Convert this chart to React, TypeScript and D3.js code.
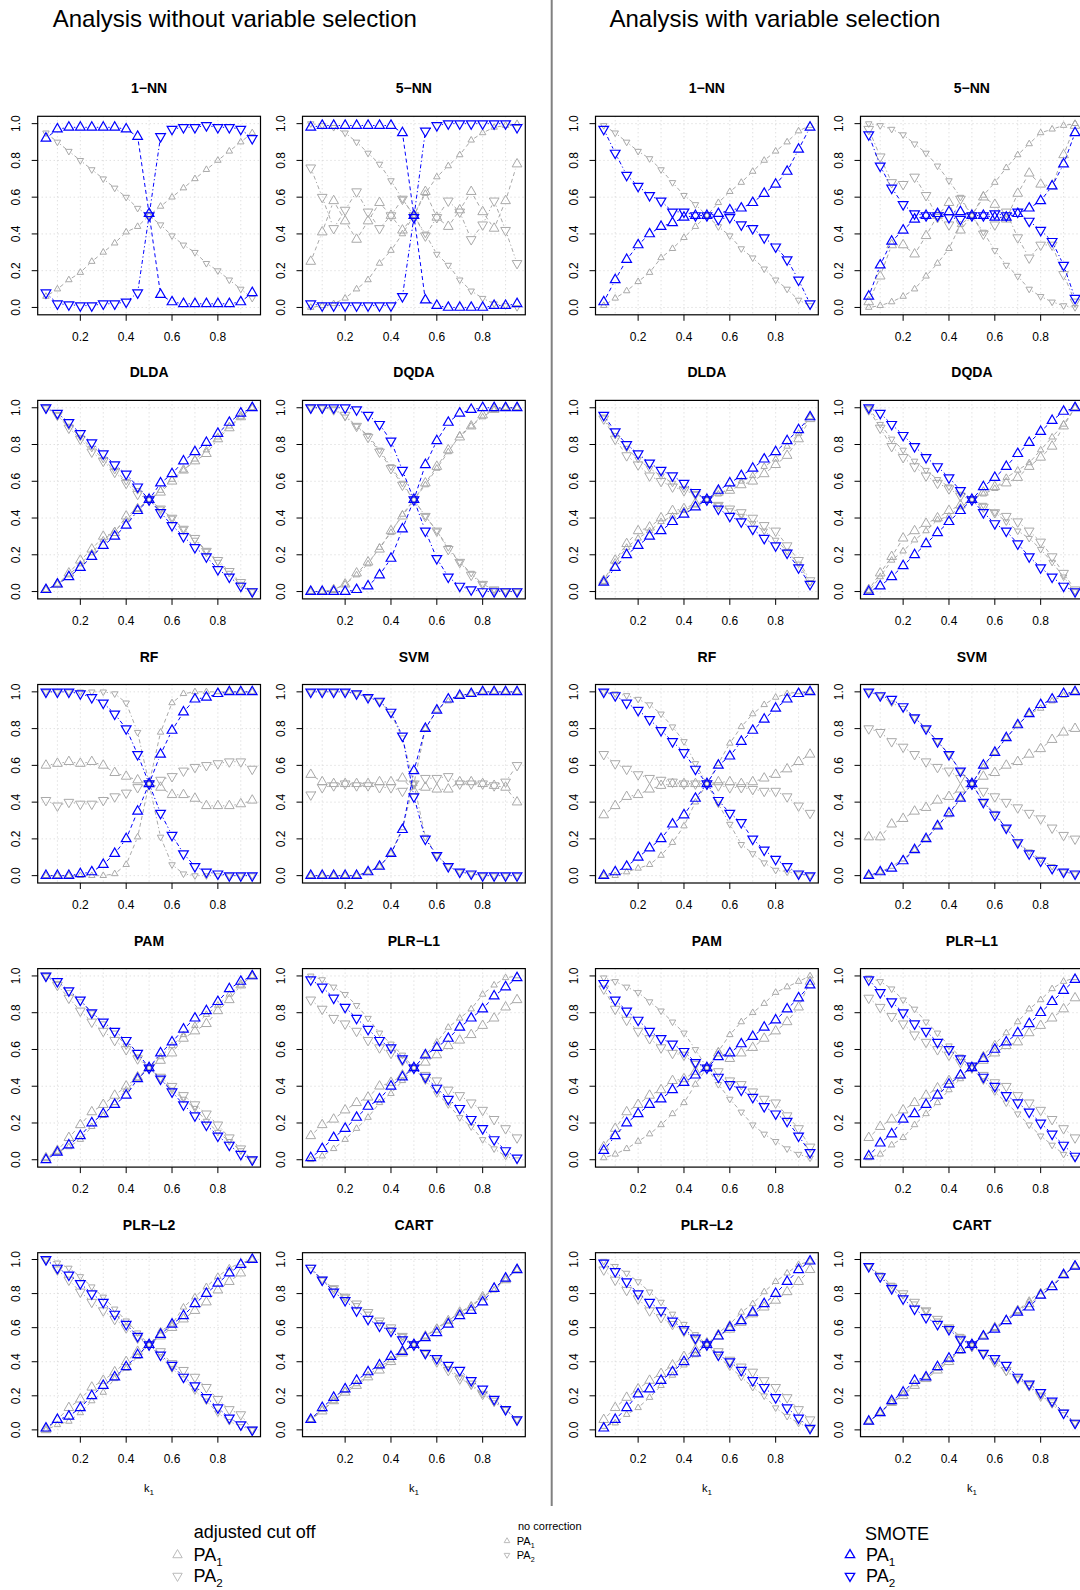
import React from "react";
import * as d3 from "d3";

// ---------- data ----------
const K1 = [0.05, 0.1, 0.15, 0.2, 0.25, 0.3, 0.35, 0.4, 0.45, 0.5, 0.55, 0.6, 0.65, 0.7, 0.75, 0.8, 0.85, 0.9, 0.95];
const X_TICKS = [0.2, 0.4, 0.6, 0.8];
const Y_TICKS = [0, 0.2, 0.4, 0.6, 0.8, 1.0];
const X_GRID = [0.1, 0.2, 0.3, 0.4, 0.5, 0.6, 0.7, 0.8, 0.9];
const METHODS = ["1\u2212NN", "5\u2212NN", "DLDA", "DQDA", "RF", "SVM", "PAM", "PLR\u2212L1", "PLR\u2212L2", "CART"];
const HALF_TITLES = ["Analysis without variable selection", "Analysis with variable selection"];

// ---- without variable selection ----
const L_1NN_adj1: number[] = [];
const L_1NN_adj2: number[] = [];
const L_1NN_no1 = [0.06, 0.10, 0.15, 0.19, 0.25, 0.30, 0.35, 0.41, 0.44, 0.50, 0.55, 0.60, 0.65, 0.70, 0.75, 0.80, 0.85, 0.90, 0.95];
const L_1NN_no2 = [0.95, 0.90, 0.85, 0.80, 0.75, 0.70, 0.65, 0.60, 0.54, 0.50, 0.45, 0.39, 0.34, 0.30, 0.24, 0.20, 0.15, 0.10, 0.05];
const L_1NN_sm1 = [0.92, 0.97, 0.98, 0.98, 0.98, 0.98, 0.98, 0.97, 0.93, 0.51, 0.07, 0.03, 0.02, 0.02, 0.02, 0.02, 0.02, 0.03, 0.08];
const L_1NN_sm2 = [0.08, 0.02, 0.015, 0.01, 0.01, 0.02, 0.02, 0.03, 0.08, 0.50, 0.93, 0.97, 0.98, 0.98, 0.99, 0.98, 0.98, 0.97, 0.92];

const L_5NN_adj1 = [0.25, 0.41, 0.58, 0.47, 0.37, 0.47, 0.57, 0.50, 0.42, 0.50, 0.63, 0.49, 0.44, 0.53, 0.63, 0.52, 0.43, 0.58, 0.78];
const L_5NN_adj2 = [0.76, 0.60, 0.43, 0.53, 0.63, 0.52, 0.43, 0.50, 0.59, 0.50, 0.39, 0.49, 0.58, 0.52, 0.37, 0.45, 0.58, 0.42, 0.24];
const L_5NN_no1 = [0.00, 0.01, 0.02, 0.05, 0.10, 0.15, 0.24, 0.31, 0.40, 0.50, 0.62, 0.71, 0.77, 0.83, 0.91, 0.95, 0.98, 0.99, 1.00];
const L_5NN_no2 = [1.00, 0.99, 0.98, 0.95, 0.90, 0.84, 0.78, 0.69, 0.59, 0.50, 0.40, 0.29, 0.23, 0.15, 0.09, 0.05, 0.02, 0.01, 0.00];
const L_5NN_sm1 = [0.98, 0.99, 0.99, 0.99, 0.99, 0.99, 0.99, 0.99, 0.95, 0.50, 0.04, 0.01, 0.00, 0.00, 0.00, 0.00, 0.01, 0.01, 0.02];
const L_5NN_sm2 = [0.02, 0.01, 0.01, 0.01, 0.01, 0.01, 0.01, 0.01, 0.06, 0.49, 0.96, 0.99, 1.00, 1.00, 1.00, 1.00, 1.00, 1.00, 0.98];

const L_DLDA_adj1 = [0.01, 0.04, 0.10, 0.17, 0.23, 0.30, 0.32, 0.41, 0.45, 0.50, 0.54, 0.60, 0.66, 0.71, 0.75, 0.83, 0.89, 0.95, 1.00];
const L_DLDA_adj2 = [1.00, 0.96, 0.89, 0.83, 0.76, 0.71, 0.65, 0.59, 0.53, 0.50, 0.45, 0.40, 0.34, 0.29, 0.22, 0.17, 0.11, 0.05, 0.00];
const L_DLDA_no1 = [0.01, 0.04, 0.09, 0.15, 0.21, 0.28, 0.33, 0.39, 0.45, 0.50, 0.55, 0.61, 0.66, 0.72, 0.77, 0.84, 0.90, 0.95, 1.00];
const L_DLDA_no2 = [1.00, 0.96, 0.90, 0.84, 0.78, 0.72, 0.66, 0.60, 0.55, 0.50, 0.45, 0.40, 0.34, 0.28, 0.22, 0.16, 0.10, 0.04, 0.00];
const L_DLDA_sm1 = [0.01, 0.04, 0.08, 0.13, 0.19, 0.25, 0.30, 0.36, 0.44, 0.50, 0.59, 0.64, 0.71, 0.76, 0.81, 0.86, 0.92, 0.97, 1.00];
const L_DLDA_sm2 = [1.00, 0.97, 0.92, 0.86, 0.81, 0.75, 0.69, 0.64, 0.57, 0.50, 0.43, 0.36, 0.30, 0.24, 0.19, 0.12, 0.08, 0.03, 0.00];

const L_DQDA_adj1 = [0.00, 0.00, 0.01, 0.04, 0.10, 0.16, 0.23, 0.33, 0.41, 0.50, 0.59, 0.68, 0.77, 0.84, 0.90, 0.96, 0.99, 1.00, 1.00];
const L_DQDA_adj2 = [1.00, 1.00, 0.99, 0.96, 0.90, 0.84, 0.76, 0.67, 0.58, 0.50, 0.41, 0.33, 0.23, 0.16, 0.09, 0.04, 0.01, 0.00, 0.00];
const L_DQDA_no1 = [0.00, 0.00, 0.01, 0.04, 0.09, 0.15, 0.24, 0.32, 0.42, 0.50, 0.58, 0.67, 0.76, 0.85, 0.90, 0.95, 0.99, 1.00, 1.00];
const L_DQDA_no2 = [1.00, 1.00, 0.99, 0.95, 0.90, 0.85, 0.77, 0.68, 0.59, 0.50, 0.41, 0.33, 0.24, 0.16, 0.10, 0.04, 0.01, 0.00, 0.00];
const L_DQDA_sm1 = [0.00, 0.00, 0.00, 0.00, 0.01, 0.03, 0.09, 0.18, 0.34, 0.50, 0.69, 0.82, 0.92, 0.97, 0.99, 1.00, 1.00, 1.00, 1.00];
const L_DQDA_sm2 = [1.00, 1.00, 1.00, 1.00, 0.99, 0.96, 0.91, 0.82, 0.66, 0.50, 0.33, 0.18, 0.08, 0.03, 0.01, 0.00, 0.00, 0.00, 0.00];

const L_RF_adj1 = [0.60, 0.61, 0.62, 0.61, 0.62, 0.60, 0.56, 0.54, 0.52, 0.50, 0.48, 0.44, 0.44, 0.42, 0.38, 0.38, 0.38, 0.39, 0.41];
const L_RF_adj2 = [0.41, 0.38, 0.40, 0.39, 0.39, 0.41, 0.43, 0.45, 0.48, 0.50, 0.52, 0.54, 0.57, 0.59, 0.60, 0.61, 0.62, 0.62, 0.58];
const L_RF_no1 = [0.00, 0.00, 0.00, 0.00, 0.00, 0.00, 0.01, 0.06, 0.21, 0.50, 0.78, 0.94, 0.99, 1.00, 1.00, 1.00, 1.00, 1.00, 1.00];
const L_RF_no2 = [1.00, 1.00, 1.00, 1.00, 1.00, 1.00, 0.99, 0.94, 0.78, 0.50, 0.21, 0.06, 0.01, 0.00, 0.00, 0.00, 0.00, 0.00, 0.00];
const L_RF_sm1 = [0.00, 0.00, 0.00, 0.01, 0.02, 0.06, 0.12, 0.20, 0.35, 0.50, 0.66, 0.79, 0.89, 0.96, 0.97, 0.99, 1.00, 1.00, 1.00];
const L_RF_sm2 = [1.00, 1.00, 1.00, 0.99, 0.97, 0.94, 0.88, 0.80, 0.66, 0.50, 0.34, 0.22, 0.12, 0.05, 0.02, 0.01, 0.00, 0.00, 0.00];

const L_SVM_adj1 = [0.55, 0.51, 0.50, 0.50, 0.50, 0.50, 0.51, 0.51, 0.53, 0.46, 0.48, 0.47, 0.47, 0.51, 0.51, 0.50, 0.49, 0.48, 0.40];
const L_SVM_adj2 = [0.44, 0.48, 0.49, 0.50, 0.49, 0.49, 0.48, 0.48, 0.46, 0.50, 0.53, 0.53, 0.54, 0.50, 0.50, 0.50, 0.49, 0.51, 0.60];
const L_SVM_no1 = [0.00, 0.00, 0.00, 0.00, 0.00, 0.02, 0.05, 0.12, 0.26, 0.50, 0.80, 0.90, 0.95, 0.98, 0.99, 1.00, 1.00, 1.00, 1.00];
const L_SVM_no2 = [1.00, 1.00, 1.00, 1.00, 0.99, 0.97, 0.95, 0.88, 0.75, 0.50, 0.21, 0.11, 0.05, 0.02, 0.01, 0.00, 0.00, 0.00, 0.00];
const L_SVM_sm1 = [0.00, 0.00, 0.00, 0.00, 0.00, 0.02, 0.05, 0.12, 0.25, 0.57, 0.80, 0.90, 0.96, 0.98, 0.99, 1.00, 1.00, 1.00, 1.00];
const L_SVM_sm2 = [1.00, 1.00, 1.00, 1.00, 0.99, 0.97, 0.95, 0.89, 0.76, 0.43, 0.20, 0.11, 0.05, 0.02, 0.01, 0.00, 0.00, 0.00, 0.00];

const L_PAM_adj1 = [0.01, 0.05, 0.12, 0.19, 0.26, 0.30, 0.35, 0.40, 0.45, 0.50, 0.54, 0.58, 0.66, 0.70, 0.74, 0.81, 0.87, 0.95, 1.00];
const L_PAM_adj2 = [1.00, 0.95, 0.88, 0.81, 0.75, 0.70, 0.65, 0.60, 0.55, 0.50, 0.45, 0.40, 0.35, 0.30, 0.25, 0.19, 0.12, 0.06, 0.00];
const L_PAM_no1 = [0.01, 0.04, 0.07, 0.11, 0.18, 0.24, 0.31, 0.38, 0.44, 0.50, 0.56, 0.62, 0.68, 0.73, 0.79, 0.84, 0.90, 0.95, 1.00];
const L_PAM_no2 = [1.00, 0.96, 0.91, 0.86, 0.80, 0.74, 0.69, 0.62, 0.56, 0.50, 0.44, 0.38, 0.33, 0.28, 0.21, 0.15, 0.10, 0.05, 0.00];
const L_PAM_sm1 = [0.00, 0.04, 0.08, 0.13, 0.20, 0.25, 0.30, 0.35, 0.44, 0.50, 0.58, 0.64, 0.71, 0.77, 0.81, 0.86, 0.93, 0.97, 1.00];
const L_PAM_sm2 = [1.00, 0.97, 0.92, 0.87, 0.80, 0.75, 0.70, 0.65, 0.58, 0.50, 0.44, 0.37, 0.30, 0.24, 0.19, 0.13, 0.08, 0.03, 0.00];

const L_PLR1_adj1 = [0.13, 0.19, 0.22, 0.27, 0.31, 0.34, 0.40, 0.42, 0.46, 0.50, 0.53, 0.57, 0.62, 0.65, 0.68, 0.73, 0.77, 0.83, 0.87];
const L_PLR1_adj2 = [0.87, 0.82, 0.77, 0.74, 0.70, 0.65, 0.61, 0.58, 0.54, 0.50, 0.46, 0.43, 0.38, 0.35, 0.31, 0.27, 0.22, 0.17, 0.12];
const L_PLR1_no1 = [0.00, 0.02, 0.06, 0.11, 0.17, 0.23, 0.31, 0.36, 0.43, 0.50, 0.57, 0.64, 0.72, 0.77, 0.82, 0.90, 0.95, 0.99, 1.00];
const L_PLR1_no2 = [1.00, 0.98, 0.94, 0.90, 0.84, 0.77, 0.69, 0.63, 0.57, 0.50, 0.43, 0.36, 0.30, 0.23, 0.18, 0.11, 0.06, 0.02, 0.00];
const L_PLR1_sm1 = [0.01, 0.06, 0.12, 0.17, 0.23, 0.29, 0.33, 0.40, 0.45, 0.50, 0.57, 0.61, 0.66, 0.72, 0.77, 0.82, 0.89, 0.94, 0.99];
const L_PLR1_sm2 = [0.98, 0.94, 0.88, 0.83, 0.77, 0.71, 0.65, 0.61, 0.55, 0.50, 0.45, 0.39, 0.33, 0.28, 0.22, 0.17, 0.11, 0.05, 0.01];

const L_PLR2_adj1 = [0.00, 0.06, 0.13, 0.18, 0.25, 0.29, 0.34, 0.40, 0.46, 0.50, 0.55, 0.60, 0.65, 0.70, 0.75, 0.82, 0.87, 0.92, 1.00];
const L_PLR2_adj2 = [1.00, 0.94, 0.88, 0.81, 0.75, 0.70, 0.65, 0.60, 0.54, 0.50, 0.46, 0.39, 0.35, 0.31, 0.25, 0.18, 0.12, 0.09, 0.00];
const L_PLR2_no1 = [0.00, 0.03, 0.05, 0.10, 0.17, 0.22, 0.30, 0.36, 0.43, 0.50, 0.58, 0.62, 0.72, 0.78, 0.84, 0.90, 0.95, 0.98, 1.00];
const L_PLR2_no2 = [1.00, 0.98, 0.95, 0.90, 0.84, 0.78, 0.71, 0.64, 0.57, 0.50, 0.43, 0.36, 0.30, 0.23, 0.17, 0.10, 0.05, 0.02, 0.00];
const L_PLR2_sm1 = [0.01, 0.06, 0.08, 0.13, 0.20, 0.26, 0.31, 0.37, 0.44, 0.50, 0.56, 0.62, 0.67, 0.74, 0.80, 0.86, 0.92, 0.97, 1.00];
const L_PLR2_sm2 = [1.00, 0.95, 0.91, 0.86, 0.80, 0.75, 0.68, 0.62, 0.55, 0.50, 0.44, 0.38, 0.31, 0.26, 0.19, 0.13, 0.07, 0.03, 0.00];

const L_CART_adj1 = [0.06, 0.11, 0.17, 0.22, 0.26, 0.31, 0.35, 0.40, 0.45, 0.50, 0.55, 0.59, 0.64, 0.69, 0.72, 0.78, 0.83, 0.88, 0.94];
const L_CART_adj2 = [0.95, 0.88, 0.83, 0.78, 0.74, 0.69, 0.64, 0.60, 0.55, 0.50, 0.45, 0.40, 0.35, 0.30, 0.27, 0.21, 0.17, 0.12, 0.06];
const L_CART_no1 = [0.06, 0.12, 0.17, 0.23, 0.27, 0.32, 0.37, 0.41, 0.46, 0.50, 0.55, 0.60, 0.64, 0.69, 0.73, 0.78, 0.82, 0.88, 0.94];
const L_CART_no2 = [0.94, 0.88, 0.83, 0.78, 0.73, 0.68, 0.63, 0.59, 0.55, 0.50, 0.45, 0.41, 0.36, 0.31, 0.26, 0.21, 0.16, 0.12, 0.06];
const L_CART_sm1 = [0.06, 0.13, 0.19, 0.24, 0.29, 0.34, 0.38, 0.43, 0.46, 0.50, 0.54, 0.57, 0.62, 0.67, 0.70, 0.75, 0.83, 0.89, 0.94];
const L_CART_sm2 = [0.95, 0.88, 0.81, 0.76, 0.70, 0.65, 0.61, 0.58, 0.53, 0.50, 0.45, 0.42, 0.38, 0.35, 0.29, 0.24, 0.18, 0.12, 0.06];

// ---- with variable selection ----
const R_1NN_adj1: number[] = [];
const R_1NN_adj2: number[] = [];
const R_1NN_no1 = [0.01, 0.05, 0.09, 0.14, 0.19, 0.27, 0.32, 0.38, 0.44, 0.50, 0.57, 0.63, 0.68, 0.74, 0.80, 0.85, 0.90, 0.96, 0.99];
const R_1NN_no2 = [0.99, 0.95, 0.90, 0.85, 0.81, 0.75, 0.68, 0.61, 0.56, 0.50, 0.44, 0.39, 0.32, 0.27, 0.21, 0.15, 0.10, 0.04, 0.01];
const R_1NN_sm1 = [0.03, 0.15, 0.26, 0.34, 0.40, 0.44, 0.46, 0.49, 0.50, 0.50, 0.51, 0.53, 0.54, 0.57, 0.62, 0.67, 0.74, 0.86, 0.98];
const R_1NN_sm2 = [0.97, 0.84, 0.72, 0.66, 0.61, 0.58, 0.52, 0.52, 0.50, 0.50, 0.48, 0.49, 0.45, 0.43, 0.38, 0.33, 0.26, 0.15, 0.02];

const R_5NN_adj1 = [0.03, 0.17, 0.34, 0.34, 0.29, 0.39, 0.50, 0.57, 0.42, 0.50, 0.60, 0.56, 0.48, 0.62, 0.73, 0.67, 0.66, 0.83, 0.99];
const R_5NN_adj2 = [0.97, 0.82, 0.68, 0.67, 0.71, 0.61, 0.49, 0.45, 0.59, 0.50, 0.40, 0.45, 0.52, 0.38, 0.27, 0.34, 0.34, 0.18, 0.03];
const R_5NN_no1 = [0.00, 0.01, 0.03, 0.06, 0.10, 0.17, 0.24, 0.32, 0.45, 0.50, 0.61, 0.68, 0.76, 0.83, 0.89, 0.95, 0.97, 0.99, 1.00];
const R_5NN_no2 = [1.00, 0.99, 0.97, 0.94, 0.89, 0.84, 0.77, 0.69, 0.60, 0.50, 0.41, 0.31, 0.23, 0.17, 0.10, 0.06, 0.03, 0.01, 0.00];
const R_5NN_sm1 = [0.06, 0.23, 0.36, 0.42, 0.48, 0.50, 0.51, 0.52, 0.52, 0.50, 0.50, 0.49, 0.49, 0.51, 0.54, 0.58, 0.66, 0.78, 0.95];
const R_5NN_sm2 = [0.94, 0.77, 0.65, 0.56, 0.51, 0.50, 0.50, 0.49, 0.48, 0.50, 0.50, 0.51, 0.50, 0.52, 0.47, 0.42, 0.36, 0.23, 0.05];

const R_DLDA_adj1 = [0.06, 0.17, 0.26, 0.33, 0.35, 0.40, 0.44, 0.45, 0.48, 0.50, 0.54, 0.55, 0.58, 0.60, 0.64, 0.69, 0.74, 0.83, 0.94];
const R_DLDA_adj2 = [0.94, 0.83, 0.74, 0.69, 0.63, 0.60, 0.57, 0.55, 0.53, 0.50, 0.47, 0.45, 0.43, 0.40, 0.36, 0.33, 0.25, 0.17, 0.06];
const R_DLDA_no1 = [0.05, 0.16, 0.24, 0.29, 0.33, 0.38, 0.41, 0.44, 0.47, 0.50, 0.53, 0.56, 0.60, 0.63, 0.68, 0.72, 0.79, 0.86, 0.95];
const R_DLDA_no2 = [0.95, 0.85, 0.78, 0.72, 0.67, 0.63, 0.59, 0.56, 0.53, 0.50, 0.47, 0.44, 0.41, 0.37, 0.33, 0.28, 0.22, 0.15, 0.05];
const R_DLDA_sm1 = [0.05, 0.13, 0.20, 0.25, 0.30, 0.33, 0.38, 0.42, 0.46, 0.50, 0.55, 0.59, 0.63, 0.67, 0.72, 0.76, 0.82, 0.88, 0.95];
const R_DLDA_sm2 = [0.96, 0.87, 0.80, 0.75, 0.70, 0.66, 0.63, 0.59, 0.54, 0.50, 0.45, 0.41, 0.38, 0.34, 0.29, 0.25, 0.21, 0.13, 0.04];

const R_DQDA_adj1 = [0.01, 0.10, 0.19, 0.29, 0.33, 0.37, 0.40, 0.44, 0.47, 0.50, 0.54, 0.57, 0.59, 0.62, 0.68, 0.73, 0.79, 0.90, 1.00];
const R_DQDA_adj2 = [0.99, 0.89, 0.79, 0.73, 0.68, 0.63, 0.59, 0.56, 0.52, 0.50, 0.46, 0.43, 0.41, 0.38, 0.33, 0.27, 0.19, 0.10, 0.01];
const R_DQDA_no1 = [0.00, 0.08, 0.17, 0.22, 0.28, 0.33, 0.39, 0.41, 0.46, 0.50, 0.53, 0.56, 0.62, 0.66, 0.70, 0.77, 0.84, 0.91, 1.00];
const R_DQDA_no2 = [1.00, 0.91, 0.83, 0.77, 0.71, 0.66, 0.61, 0.57, 0.53, 0.50, 0.47, 0.43, 0.38, 0.33, 0.29, 0.23, 0.16, 0.08, 0.00];
const R_DQDA_sm1 = [0.00, 0.03, 0.08, 0.14, 0.20, 0.26, 0.32, 0.38, 0.44, 0.50, 0.57, 0.62, 0.68, 0.75, 0.81, 0.87, 0.93, 0.98, 1.00];
const R_DQDA_sm2 = [1.00, 0.97, 0.91, 0.85, 0.79, 0.73, 0.68, 0.62, 0.55, 0.50, 0.43, 0.37, 0.33, 0.26, 0.19, 0.13, 0.08, 0.03, 0.00];

const R_RF_adj1 = [0.33, 0.38, 0.43, 0.44, 0.47, 0.49, 0.50, 0.50, 0.50, 0.50, 0.51, 0.51, 0.50, 0.51, 0.53, 0.55, 0.58, 0.62, 0.66];
const R_RF_adj2 = [0.66, 0.61, 0.58, 0.55, 0.53, 0.52, 0.51, 0.50, 0.50, 0.50, 0.49, 0.48, 0.48, 0.47, 0.46, 0.46, 0.43, 0.38, 0.34];
const R_RF_no1 = [0.00, 0.00, 0.02, 0.04, 0.06, 0.11, 0.18, 0.27, 0.40, 0.50, 0.61, 0.72, 0.81, 0.88, 0.93, 0.97, 0.99, 1.00, 1.00];
const R_RF_no2 = [1.00, 0.99, 0.98, 0.96, 0.93, 0.88, 0.81, 0.73, 0.61, 0.50, 0.39, 0.28, 0.17, 0.12, 0.07, 0.03, 0.02, 0.01, 0.00];
const R_RF_sm1 = [0.00, 0.02, 0.05, 0.10, 0.15, 0.20, 0.28, 0.33, 0.42, 0.50, 0.60, 0.65, 0.73, 0.79, 0.85, 0.91, 0.96, 0.99, 1.00];
const R_RF_sm2 = [1.00, 0.98, 0.94, 0.90, 0.85, 0.79, 0.73, 0.67, 0.58, 0.50, 0.41, 0.34, 0.29, 0.20, 0.14, 0.09, 0.05, 0.01, 0.00];

const R_SVM_adj1 = [0.21, 0.21, 0.28, 0.31, 0.35, 0.37, 0.41, 0.43, 0.47, 0.50, 0.54, 0.56, 0.60, 0.62, 0.66, 0.69, 0.74, 0.78, 0.80];
const R_SVM_adj2 = [0.80, 0.78, 0.73, 0.70, 0.66, 0.62, 0.59, 0.57, 0.53, 0.50, 0.46, 0.43, 0.40, 0.37, 0.34, 0.31, 0.26, 0.22, 0.20];
const R_SVM_no1 = [0.00, 0.02, 0.05, 0.09, 0.14, 0.20, 0.27, 0.33, 0.42, 0.50, 0.59, 0.67, 0.75, 0.82, 0.88, 0.91, 0.95, 0.98, 1.00];
const R_SVM_no2 = [1.00, 0.98, 0.94, 0.91, 0.86, 0.80, 0.73, 0.66, 0.57, 0.50, 0.40, 0.34, 0.26, 0.18, 0.13, 0.09, 0.05, 0.02, 0.01];
const R_SVM_sm1 = [0.00, 0.02, 0.04, 0.08, 0.14, 0.20, 0.27, 0.34, 0.42, 0.50, 0.60, 0.67, 0.75, 0.82, 0.88, 0.93, 0.96, 0.99, 1.00];
const R_SVM_sm2 = [1.00, 0.98, 0.96, 0.92, 0.86, 0.80, 0.73, 0.66, 0.57, 0.50, 0.40, 0.33, 0.26, 0.18, 0.12, 0.08, 0.04, 0.02, 0.01];

const R_PAM_adj1 = [0.07, 0.17, 0.26, 0.30, 0.35, 0.38, 0.43, 0.44, 0.48, 0.50, 0.58, 0.55, 0.58, 0.61, 0.66, 0.70, 0.75, 0.83, 0.97];
const R_PAM_adj2 = [0.93, 0.82, 0.76, 0.70, 0.66, 0.61, 0.58, 0.57, 0.52, 0.50, 0.48, 0.43, 0.41, 0.37, 0.33, 0.31, 0.24, 0.17, 0.07];
const R_PAM_no1 = [0.01, 0.03, 0.06, 0.10, 0.14, 0.19, 0.25, 0.31, 0.41, 0.50, 0.59, 0.68, 0.75, 0.80, 0.85, 0.91, 0.94, 0.97, 1.00];
const R_PAM_no2 = [0.99, 0.97, 0.94, 0.91, 0.86, 0.81, 0.75, 0.69, 0.60, 0.50, 0.41, 0.33, 0.26, 0.19, 0.14, 0.10, 0.06, 0.03, 0.01];
const R_PAM_sm1 = [0.05, 0.13, 0.20, 0.25, 0.30, 0.33, 0.38, 0.42, 0.46, 0.50, 0.56, 0.58, 0.63, 0.67, 0.72, 0.76, 0.82, 0.88, 0.95];
const R_PAM_sm2 = [0.96, 0.87, 0.81, 0.76, 0.70, 0.66, 0.63, 0.59, 0.53, 0.50, 0.45, 0.41, 0.38, 0.34, 0.29, 0.25, 0.21, 0.13, 0.04];

const R_PLR1_adj1 = [0.12, 0.18, 0.22, 0.27, 0.31, 0.35, 0.39, 0.43, 0.46, 0.50, 0.54, 0.58, 0.62, 0.64, 0.69, 0.73, 0.77, 0.82, 0.88];
const R_PLR1_adj2 = [0.88, 0.83, 0.78, 0.74, 0.68, 0.64, 0.60, 0.57, 0.53, 0.50, 0.46, 0.42, 0.40, 0.35, 0.31, 0.27, 0.22, 0.17, 0.12];
const R_PLR1_no1 = [0.01, 0.03, 0.08, 0.12, 0.19, 0.25, 0.31, 0.38, 0.44, 0.50, 0.57, 0.63, 0.69, 0.75, 0.82, 0.87, 0.93, 0.97, 0.99];
const R_PLR1_no2 = [0.99, 0.97, 0.93, 0.87, 0.82, 0.75, 0.69, 0.62, 0.56, 0.50, 0.43, 0.37, 0.31, 0.25, 0.19, 0.13, 0.08, 0.03, 0.01];
const R_PLR1_sm1 = [0.02, 0.09, 0.14, 0.22, 0.25, 0.30, 0.35, 0.41, 0.46, 0.50, 0.55, 0.60, 0.64, 0.69, 0.74, 0.80, 0.86, 0.92, 0.98];
const R_PLR1_sm2 = [0.98, 0.91, 0.86, 0.80, 0.74, 0.70, 0.64, 0.60, 0.55, 0.51, 0.45, 0.40, 0.35, 0.31, 0.26, 0.20, 0.14, 0.08, 0.02];

const R_PLR2_adj1 = [0.06, 0.13, 0.19, 0.24, 0.29, 0.33, 0.38, 0.43, 0.47, 0.51, 0.55, 0.59, 0.63, 0.68, 0.72, 0.76, 0.81, 0.87, 0.94];
const R_PLR2_adj2 = [0.94, 0.88, 0.82, 0.77, 0.70, 0.66, 0.62, 0.58, 0.53, 0.50, 0.46, 0.41, 0.37, 0.34, 0.29, 0.25, 0.19, 0.12, 0.06];
const R_PLR2_no1 = [0.02, 0.04, 0.09, 0.13, 0.19, 0.26, 0.32, 0.38, 0.44, 0.50, 0.57, 0.62, 0.69, 0.74, 0.81, 0.87, 0.92, 0.97, 0.99];
const R_PLR2_no2 = [0.99, 0.96, 0.92, 0.87, 0.81, 0.75, 0.68, 0.62, 0.56, 0.50, 0.43, 0.37, 0.31, 0.25, 0.20, 0.13, 0.08, 0.04, 0.01];
const R_PLR2_sm1 = [0.01, 0.06, 0.13, 0.21, 0.24, 0.29, 0.34, 0.40, 0.45, 0.50, 0.55, 0.60, 0.64, 0.69, 0.74, 0.80, 0.87, 0.94, 0.99];
const R_PLR2_sm2 = [0.98, 0.93, 0.87, 0.80, 0.75, 0.70, 0.64, 0.59, 0.54, 0.50, 0.44, 0.40, 0.35, 0.29, 0.25, 0.19, 0.13, 0.07, 0.01];

const R_CART_adj1 = [0.05, 0.10, 0.16, 0.20, 0.26, 0.30, 0.35, 0.40, 0.47, 0.50, 0.55, 0.60, 0.64, 0.70, 0.74, 0.79, 0.84, 0.91, 0.96];
const R_CART_adj2 = [0.96, 0.90, 0.84, 0.80, 0.75, 0.70, 0.65, 0.60, 0.54, 0.49, 0.45, 0.40, 0.35, 0.30, 0.26, 0.20, 0.16, 0.10, 0.04];
const R_CART_no1 = [0.05, 0.10, 0.16, 0.21, 0.27, 0.31, 0.36, 0.41, 0.46, 0.50, 0.55, 0.60, 0.65, 0.70, 0.76, 0.81, 0.85, 0.91, 0.96];
const R_CART_no2 = [0.96, 0.91, 0.85, 0.79, 0.74, 0.70, 0.64, 0.60, 0.55, 0.50, 0.45, 0.39, 0.34, 0.30, 0.25, 0.20, 0.15, 0.09, 0.04];
const R_CART_sm1 = [0.05, 0.10, 0.17, 0.22, 0.29, 0.31, 0.37, 0.42, 0.47, 0.50, 0.55, 0.59, 0.64, 0.69, 0.72, 0.79, 0.84, 0.91, 0.96];
const R_CART_sm2 = [0.96, 0.90, 0.83, 0.77, 0.71, 0.66, 0.62, 0.59, 0.53, 0.50, 0.45, 0.42, 0.38, 0.31, 0.27, 0.22, 0.17, 0.10, 0.04];

// panels table built from the arrays above (side, method index)
const PANELS = [
  [0, 0, L_1NN_adj1, L_1NN_adj2, L_1NN_no1, L_1NN_no2, L_1NN_sm1, L_1NN_sm2],
  [0, 1, L_5NN_adj1, L_5NN_adj2, L_5NN_no1, L_5NN_no2, L_5NN_sm1, L_5NN_sm2],
  [0, 2, L_DLDA_adj1, L_DLDA_adj2, L_DLDA_no1, L_DLDA_no2, L_DLDA_sm1, L_DLDA_sm2],
  [0, 3, L_DQDA_adj1, L_DQDA_adj2, L_DQDA_no1, L_DQDA_no2, L_DQDA_sm1, L_DQDA_sm2],
  [0, 4, L_RF_adj1, L_RF_adj2, L_RF_no1, L_RF_no2, L_RF_sm1, L_RF_sm2],
  [0, 5, L_SVM_adj1, L_SVM_adj2, L_SVM_no1, L_SVM_no2, L_SVM_sm1, L_SVM_sm2],
  [0, 6, L_PAM_adj1, L_PAM_adj2, L_PAM_no1, L_PAM_no2, L_PAM_sm1, L_PAM_sm2],
  [0, 7, L_PLR1_adj1, L_PLR1_adj2, L_PLR1_no1, L_PLR1_no2, L_PLR1_sm1, L_PLR1_sm2],
  [0, 8, L_PLR2_adj1, L_PLR2_adj2, L_PLR2_no1, L_PLR2_no2, L_PLR2_sm1, L_PLR2_sm2],
  [0, 9, L_CART_adj1, L_CART_adj2, L_CART_no1, L_CART_no2, L_CART_sm1, L_CART_sm2],
  [1, 0, R_1NN_adj1, R_1NN_adj2, R_1NN_no1, R_1NN_no2, R_1NN_sm1, R_1NN_sm2],
  [1, 1, R_5NN_adj1, R_5NN_adj2, R_5NN_no1, R_5NN_no2, R_5NN_sm1, R_5NN_sm2],
  [1, 2, R_DLDA_adj1, R_DLDA_adj2, R_DLDA_no1, R_DLDA_no2, R_DLDA_sm1, R_DLDA_sm2],
  [1, 3, R_DQDA_adj1, R_DQDA_adj2, R_DQDA_no1, R_DQDA_no2, R_DQDA_sm1, R_DQDA_sm2],
  [1, 4, R_RF_adj1, R_RF_adj2, R_RF_no1, R_RF_no2, R_RF_sm1, R_RF_sm2],
  [1, 5, R_SVM_adj1, R_SVM_adj2, R_SVM_no1, R_SVM_no2, R_SVM_sm1, R_SVM_sm2],
  [1, 6, R_PAM_adj1, R_PAM_adj2, R_PAM_no1, R_PAM_no2, R_PAM_sm1, R_PAM_sm2],
  [1, 7, R_PLR1_adj1, R_PLR1_adj2, R_PLR1_no1, R_PLR1_no2, R_PLR1_sm1, R_PLR1_sm2],
  [1, 8, R_PLR2_adj1, R_PLR2_adj2, R_PLR2_no1, R_PLR2_no2, R_PLR2_sm1, R_PLR2_sm2],
  [1, 9, R_CART_adj1, R_CART_adj2, R_CART_no1, R_CART_no2, R_CART_sm1, R_CART_sm2],
] as any[];

// ---------- layout ----------
const COL_LEFT = [37.7, 302.5, 595.5, 860.5];
const ROW_TOP = [116.3, 400.4, 684.5, 968.6, 1252.7];
const ROW_H = [198.5, 198.5, 198.5, 198.5, 184];
const BOX_W = 222.8;
const FONT = "'Liberation Sans', Arial, Helvetica, sans-serif";
const GRAY = "#A9A9A9";
const BLUE = "#0000FF";
const DASH1 = "4,3";
const DASH2 = "1.2,2.5,4,2.5";

function triPath(cx: number, cy: number, sz: number, up: boolean) {
  const r = 1.5551 * sz, xc = 1.3468 * sz, yc = 0.7776 * sz;
  if (up) return `M${cx},${cy - r}L${cx + xc},${cy + yc}L${cx - xc},${cy + yc}Z`;
  return `M${cx},${cy + r}L${cx + xc},${cy - yc}L${cx - xc},${cy - yc}Z`;
}

function Series({ vals, x, y, color, sz, up, dash, gap, sw }: any) {
  if (!vals || vals.length === 0) return null;
  const pts = vals.map((v: number, i: number) => [x(K1[i]), y(v)]);
  const segs: any[] = [];
  for (let i = 0; i < pts.length - 1; i++) {
    const [x1, y1] = pts[i];
    const [x2, y2] = pts[i + 1];
    const dx = x2 - x1, dy = y2 - y1;
    const L = Math.hypot(dx, dy);
    if (L <= 2 * gap) continue;
    const ux = dx / L, uy = dy / L;
    segs.push([x1 + ux * gap, y1 + uy * gap, x2 - ux * gap, y2 - uy * gap]);
  }
  return (
    <g>
      {segs.map((s, i) => (
        <line key={"l" + i} x1={s[0]} y1={s[1]} x2={s[2]} y2={s[3]} stroke={color} strokeWidth={1} strokeDasharray={dash} />
      ))}
      {pts.map((p: number[], i: number) => (
        <path key={"p" + i} d={triPath(p[0], p[1], sz, up)} fill="none" stroke={color} strokeWidth={sw} />
      ))}
    </g>
  );
}

function Panel({ p }: any) {
  const [side, mi, adj1, adj2, no1, no2, sm1, sm2] = p;
  const col = side * 2 + (mi % 2);
  const row = Math.floor(mi / 2);
  const left = COL_LEFT[col];
  const top = ROW_TOP[row];
  const h = ROW_H[row];
  const x = d3.scaleLinear().domain([0.014, 0.986]).range([left, left + BOX_W]);
  const y = d3.scaleLinear().domain([-0.04, 1.04]).range([top + h, top]);
  const bottom = top + h;
  const cx = left + BOX_W / 2;
  return (
    <g>
      <text x={cx} y={top - 23} textAnchor="middle" fontSize={14} fontWeight="bold" fontFamily={FONT}>
        {METHODS[mi]}
      </text>
      {X_GRID.map((g) => (
        <line key={"gx" + g} x1={x(g)} x2={x(g)} y1={top} y2={bottom} stroke="#D3D3D3" strokeWidth={1} strokeDasharray="1,3" />
      ))}
      {Y_TICKS.map((g) => (
        <line key={"gy" + g} x1={left} x2={left + BOX_W} y1={y(g)} y2={y(g)} stroke="#D3D3D3" strokeWidth={1} strokeDasharray="1,3" />
      ))}
      <Series vals={adj1} x={x} y={y} color={GRAY} sz={3.6} up={true} dash={DASH1} gap={5} sw={1} />
      <Series vals={adj2} x={x} y={y} color={GRAY} sz={3.6} up={false} dash={DASH2} gap={5} sw={1} />
      <Series vals={no1} x={x} y={y} color={GRAY} sz={2.4} up={true} dash={DASH1} gap={3.5} sw={1} />
      <Series vals={no2} x={x} y={y} color={GRAY} sz={2.4} up={false} dash={DASH2} gap={3.5} sw={1} />
      <Series vals={sm1} x={x} y={y} color={BLUE} sz={3.6} up={true} dash={DASH1} gap={5} sw={1.2} />
      <Series vals={sm2} x={x} y={y} color={BLUE} sz={3.6} up={false} dash={DASH2} gap={5} sw={1.2} />
      <rect x={left} y={top} width={BOX_W} height={h} fill="none" stroke="#000" strokeWidth={1.2} />
      {X_TICKS.map((t) => (
        <g key={"xt" + t}>
          <line x1={x(t)} x2={x(t)} y1={bottom} y2={bottom + 6} stroke="#000" strokeWidth={1} />
          <text x={x(t)} y={bottom + 26} textAnchor="middle" fontSize={12} fontFamily={FONT}>
            {d3.format(".1f")(t)}
          </text>
        </g>
      ))}
      {Y_TICKS.map((t) => (
        <g key={"yt" + t}>
          <line x1={left - 6} x2={left} y1={y(t)} y2={y(t)} stroke="#000" strokeWidth={1} />
          <text
            transform={`translate(${left - 18},${y(t)}) rotate(-90)`}
            textAnchor="middle"
            fontSize={12}
            fontFamily={FONT}
          >
            {d3.format(".1f")(t)}
          </text>
        </g>
      ))}
      {row === 4 && (
        <text x={cx} y={1492} textAnchor="middle" fontSize={11} fontFamily={FONT}>
          k<tspan fontSize={8} dy={3}>1</tspan>
        </text>
      )}
    </g>
  );
}

function LegendItem({ x, y, color, sz, up, label, fs, sw }: any) {
  return (
    <g>
      <path d={triPath(x, y, sz, up)} fill="none" stroke={color} strokeWidth={sw} />
      <text x={x + 16 * (fs / 18)} y={y + fs * 0.36} fontSize={fs} fontFamily={FONT}>
        {label}
        <tspan fontSize={fs * 0.65} dy={fs * 0.25}>{up ? "1" : "2"}</tspan>
      </text>
    </g>
  );
}

export default function App() {
  return (
    <svg width={1080} height={1590} style={{ position: "absolute", left: 0, top: 0, background: "#fff" }}>
      <rect x={0} y={0} width={1080} height={1590} fill="#fff" />
      <text x={52.7} y={26.8} fontSize={24} fontFamily={FONT}>{HALF_TITLES[0]}</text>
      <text x={609.5} y={26.8} fontSize={24} fontFamily={FONT}>{HALF_TITLES[1]}</text>
      <line x1={551.7} x2={551.7} y1={0} y2={1506} stroke="#808080" strokeWidth={2} />
      {PANELS.map((p, i) => (
        <Panel key={i} p={p} />
      ))}
      {/* legends */}
      <text x={193.7} y={1538} fontSize={18} fontFamily={FONT}>adjusted cut off</text>
      <LegendItem x={177.5} y={1555} color="#BBBBBB" sz={3.5} up={true} label="PA" fs={18} sw={1} />
      <LegendItem x={177.5} y={1576} color="#BBBBBB" sz={3.5} up={false} label="PA" fs={18} sw={1} />
      <text x={518} y={1530} fontSize={11} fontFamily={FONT}>no correction</text>
      <LegendItem x={507} y={1541} color="#BBBBBB" sz={2.1} up={true} label="PA" fs={11} sw={1} />
      <LegendItem x={507} y={1555} color="#BBBBBB" sz={2.1} up={false} label="PA" fs={11} sw={1} />
      <text x={865} y={1540} fontSize={18} fontFamily={FONT}>SMOTE</text>
      <LegendItem x={850} y={1555} color={BLUE} sz={3.5} up={true} label="PA" fs={18} sw={1.3} />
      <LegendItem x={850} y={1576} color={BLUE} sz={3.5} up={false} label="PA" fs={18} sw={1.3} />
    </svg>
  );
}
